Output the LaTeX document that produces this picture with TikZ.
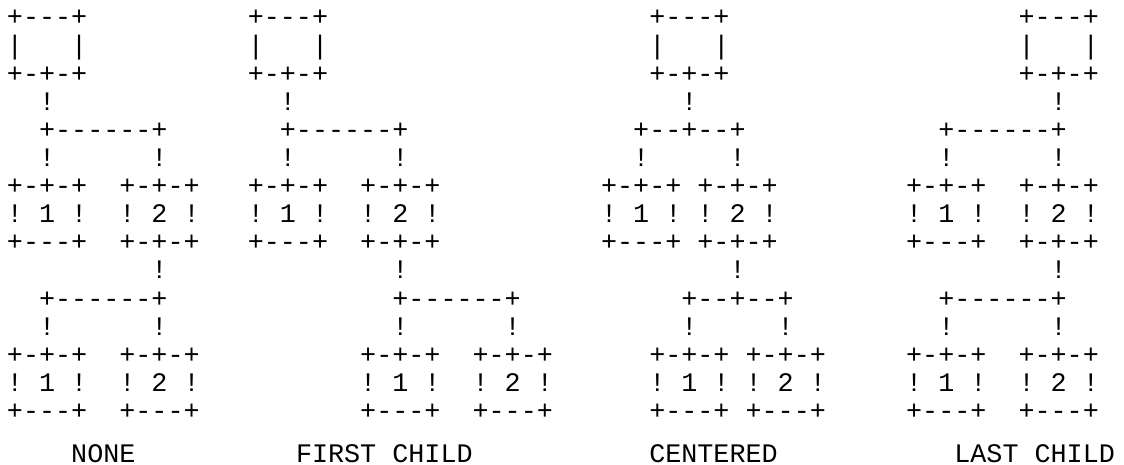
\documentclass[tikz,border=0pt]{standalone}
\usepackage{fontspec}
\setmonofont{Liberation Mono}
\tikzset{
  asc/.style={anchor=base west, inner sep=0pt, outer sep=0pt,
    font=\ttfamily\fontsize{26.76pt}{28pt}\selectfont, text=black}
}
\newcommand{\ascseg}[4]{\node[asc] (#1) at ({6.97+16.057*#2},{-26-28.1*#3}) {#4};}
\newcommand{\asclab}[3]{\node[asc] (#1) at ({6.97+16.057*#2},-462) {#3};}
\begin{document}
\begin{tikzpicture}[x=1pt,y=1pt]
\fill[white] (0,0) rectangle (1124,-465);
\useasboundingbox (0,0) rectangle (1124,-465);
% ---------------- NONE
\ascseg{a0}{0}{0}{+---+}
\ascseg{a1l}{0}{1}{|}\ascseg{a1r}{4}{1}{|}
\ascseg{a2}{0}{2}{+-+-+}
\ascseg{a3}{2}{3}{!}
\ascseg{a4}{2}{4}{+------+}
\ascseg{a5l}{2}{5}{!}\ascseg{a5r}{9}{5}{!}
\ascseg{a6l}{0}{6}{+-+-+}\ascseg{a6r}{7}{6}{+-+-+}
\ascseg{a7l}{0}{7}{! 1 !}\ascseg{a7r}{7}{7}{! 2 !}
\ascseg{a8l}{0}{8}{+---+}\ascseg{a8r}{7}{8}{+-+-+}
\ascseg{a9}{9}{9}{!}
\ascseg{a10}{2}{10}{+------+}
\ascseg{a11l}{2}{11}{!}\ascseg{a11r}{9}{11}{!}
\ascseg{a12l}{0}{12}{+-+-+}\ascseg{a12r}{7}{12}{+-+-+}
\ascseg{a13l}{0}{13}{! 1 !}\ascseg{a13r}{7}{13}{! 2 !}
\ascseg{a14l}{0}{14}{+---+}\ascseg{a14r}{7}{14}{+---+}
\asclab{aL}{4}{NONE}
% ---------------- FIRST CHILD
\ascseg{b0}{15}{0}{+---+}
\ascseg{b1l}{15}{1}{|}\ascseg{b1r}{19}{1}{|}
\ascseg{b2}{15}{2}{+-+-+}
\ascseg{b3}{17}{3}{!}
\ascseg{b4}{17}{4}{+------+}
\ascseg{b5l}{17}{5}{!}\ascseg{b5r}{24}{5}{!}
\ascseg{b6l}{15}{6}{+-+-+}\ascseg{b6r}{22}{6}{+-+-+}
\ascseg{b7l}{15}{7}{! 1 !}\ascseg{b7r}{22}{7}{! 2 !}
\ascseg{b8l}{15}{8}{+---+}\ascseg{b8r}{22}{8}{+-+-+}
\ascseg{b9}{24}{9}{!}
\ascseg{b10}{24}{10}{+------+}
\ascseg{b11l}{24}{11}{!}\ascseg{b11r}{31}{11}{!}
\ascseg{b12l}{22}{12}{+-+-+}\ascseg{b12r}{29}{12}{+-+-+}
\ascseg{b13l}{22}{13}{! 1 !}\ascseg{b13r}{29}{13}{! 2 !}
\ascseg{b14l}{22}{14}{+---+}\ascseg{b14r}{29}{14}{+---+}
\asclab{bL}{18}{FIRST CHILD}
% ---------------- CENTERED
\ascseg{c0}{40}{0}{+---+}
\ascseg{c1l}{40}{1}{|}\ascseg{c1r}{44}{1}{|}
\ascseg{c2}{40}{2}{+-+-+}
\ascseg{c3}{42}{3}{!}
\ascseg{c4}{39}{4}{+--+--+}
\ascseg{c5l}{39}{5}{!}\ascseg{c5r}{45}{5}{!}
\ascseg{c6l}{37}{6}{+-+-+}\ascseg{c6r}{43}{6}{+-+-+}
\ascseg{c7l}{37}{7}{! 1 !}\ascseg{c7r}{43}{7}{! 2 !}
\ascseg{c8l}{37}{8}{+---+}\ascseg{c8r}{43}{8}{+-+-+}
\ascseg{c9}{45}{9}{!}
\ascseg{c10}{42}{10}{+--+--+}
\ascseg{c11l}{42}{11}{!}\ascseg{c11r}{48}{11}{!}
\ascseg{c12l}{40}{12}{+-+-+}\ascseg{c12r}{46}{12}{+-+-+}
\ascseg{c13l}{40}{13}{! 1 !}\ascseg{c13r}{46}{13}{! 2 !}
\ascseg{c14l}{40}{14}{+---+}\ascseg{c14r}{46}{14}{+---+}
\asclab{cL}{40}{CENTERED}
% ---------------- LAST CHILD
\ascseg{d0}{63}{0}{+---+}
\ascseg{d1l}{63}{1}{|}\ascseg{d1r}{67}{1}{|}
\ascseg{d2}{63}{2}{+-+-+}
\ascseg{d3}{65}{3}{!}
\ascseg{d4}{58}{4}{+------+}
\ascseg{d5l}{58}{5}{!}\ascseg{d5r}{65}{5}{!}
\ascseg{d6l}{56}{6}{+-+-+}\ascseg{d6r}{63}{6}{+-+-+}
\ascseg{d7l}{56}{7}{! 1 !}\ascseg{d7r}{63}{7}{! 2 !}
\ascseg{d8l}{56}{8}{+---+}\ascseg{d8r}{63}{8}{+-+-+}
\ascseg{d9}{65}{9}{!}
\ascseg{d10}{58}{10}{+------+}
\ascseg{d11l}{58}{11}{!}\ascseg{d11r}{65}{11}{!}
\ascseg{d12l}{56}{12}{+-+-+}\ascseg{d12r}{63}{12}{+-+-+}
\ascseg{d13l}{56}{13}{! 1 !}\ascseg{d13r}{63}{13}{! 2 !}
\ascseg{d14l}{56}{14}{+---+}\ascseg{d14r}{63}{14}{+---+}
\asclab{dL}{59}{LAST CHILD}
\end{tikzpicture}
\end{document}
